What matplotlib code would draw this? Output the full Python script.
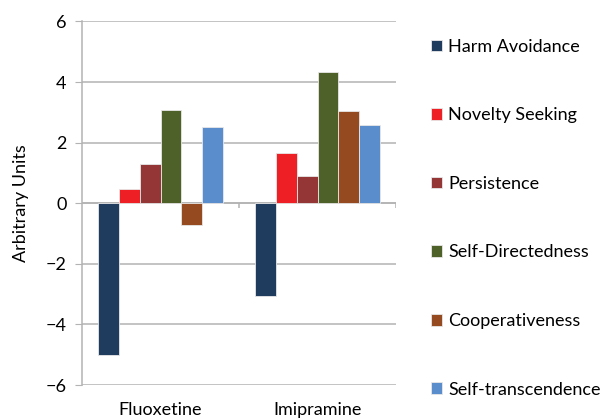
import matplotlib.pyplot as plt
import numpy as np

plt.rcParams['font.family'] = ['Lato', 'DejaVu Sans']

# data
drugs = ['Fluoxetine', 'Imipramine']
traits = ['Harm Avoidance', 'Novelty Seeking', 'Persistence',
          'Self-Directedness', 'Cooperativeness', 'Self-transcendence']
fluoxetine = [-5.0, 0.46, 1.3, 3.07, -0.72, 2.53]
imipramine = [-3.06, 1.67, 0.89, 4.32, 3.03, 2.59]
colors = ['#1F3B5E', '#EE2025', '#943636', '#4E6128', '#954A20', '#5A8DCC']

values = np.array([fluoxetine, imipramine])

fig = plt.figure(figsize=(6, 4.18), dpi=100)
ax = fig.add_axes([0.1367, 0.0789, 0.5233, 0.8697])

x = np.arange(len(drugs))
w = 0.8 / len(traits)
for i, (name, c) in enumerate(zip(traits, colors)):
    ax.bar(x - 0.4 + w * (i + 0.5), values[:, i], width=w, color=c,
           edgecolor='#E8E8E8', linewidth=0.6, label=name, zorder=3)

ax.set_xlim(-0.5, 1.5)
ax.set_ylim(-6, 6)
ax.set_yticks(range(-6, 7, 2))
ax.yaxis.grid(True, color='#B3B3B3', linewidth=1.1)
ax.set_axisbelow(True)

# horizontal axis line through zero with category boundary ticks
ax.axhline(0, color='#B3B3B3', linewidth=1.1, zorder=2)
ax.vlines([0.5, 1.5], -0.17, 0, color='#B3B3B3', linewidth=1.1, zorder=2)

for s in ['top', 'right', 'bottom']:
    ax.spines[s].set_visible(False)
ax.spines['left'].set_color('#B3B3B3')
ax.spines['left'].set_linewidth(1.1)
ax.tick_params(axis='y', length=5, color='#B3B3B3', labelsize=13, pad=6)
ax.set_xticks(x)
ax.set_xticklabels(drugs, fontsize=13)
ax.tick_params(axis='x', length=0, pad=12)
ax.set_ylabel('Arbitrary Units', fontsize=13, labelpad=12)

ax.legend(loc='upper left', bbox_to_anchor=(0.718, 0.907),
          bbox_transform=fig.transFigure, frameon=False, fontsize=13,
          handlelength=0.62, handleheight=0.62, handletextpad=0.35,
          labelspacing=2.91, borderaxespad=0, borderpad=0)

fig.savefig('out.png', dpi=100)
